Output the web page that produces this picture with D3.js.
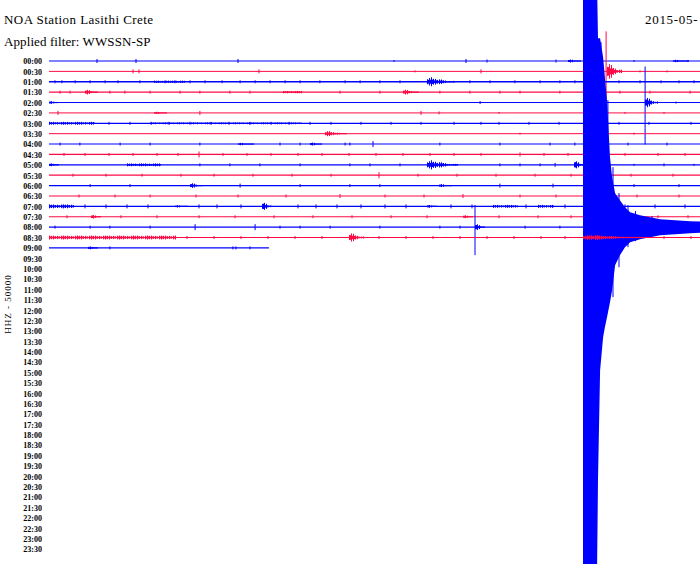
<!DOCTYPE html>
<html>
<head>
<meta charset="utf-8">
<script src="https://cdn.jsdelivr.net/npm/d3@7"></script>
<style>
  body { margin: 0; background: #fff; }
  svg { display: block; }
</style>
</head>
<body>
<svg id="heli" width="700" height="564"></svg>
<script>
// plot header
const station = 'NOA Station Lasithi Crete';
const filterName = 'Applied filter: WWSSN-SP';
const dateLabel = '2015-05-';
const channel = 'HHZ - 50000';

const rowColors = ['#0000ff', '#ff0a45'];
const rowMinutes = 30;
const lastRowEnd = 7.33; // 09:00 row, minutes recorded so far

// baseline thickness per row (background noise level)
const rowNoise = [1, 1, 1.3, 1.2, 1, 1, 1.2, 1, 1.1, 1.3, 1.1, 1.2, 1.1, 1.2, 1.3, 1.2, 1.1, 1.2, 1.1];

// short spikes per row: [minute, up, down?]
const ticks = [
  [[1.6, 2], [2.9, 2], [6.3, 2], [11.5, 1], [13.9, 2], [14.6, 1.5], [16.9, 1.5], [19.5, 1], [21.3, 1]],
  [[2.8, 2], [3.0, 2], [7.0, 2], [12.2, 1], [14.4, 2], [18.57, 40, 40], [19.7, 1], [20.6, 1]],
  [[0.2, 1.5], [0.43, 1.5], [0.87, 1.5], [1.37, 1.5], [1.87, 1.5], [2.3, 1.5], [3.03, 1.5], [3.87, 1.5], [4.2, 1.5],
   [4.7, 1.5], [5.2, 1.5], [5.77, 1.5], [6.37, 1.5], [6.87, 1.5], [7.37, 1.5], [7.87, 1.5], [8.37, 1.5], [9.03, 1.5],
   [9.87, 1.5], [10.37, 1.5], [11.03, 1.5], [11.7, 1.5], [14.03, 1.5], [14.7, 1.5], [15.53, 1.5], [16.37, 1.5],
   [17.03, 1.5], [17.53, 1.5], [19.0, 1.5], [19.7, 1.5], [20.4, 1.5], [21.0, 1.5], [21.5, 1.5]],
  [[0.37, 1.5], [0.7, 1.5], [2.03, 1.5], [2.53, 1.5], [3.37, 1.5], [4.37, 1.5], [5.03, 1.5], [6.03, 1.5], [6.7, 1.5],
   [9.7, 1.5], [11.03, 1.5], [13.03, 1.5], [14.03, 1.5], [15.03, 1.5], [15.7, 1.5], [17.03, 1.5], [19.03, 1.5],
   [20.03, 1.5], [21.37, 1.5]],
  [[14.37, 1.5], [18.4, 1], [19.87, 36, 42], [20.9, 1]],
  [[0.3, 2], [5.03, 2], [12.4, 2], [13.0, 1.5], [15.0, 1], [19.2, 1], [20.5, 1]],
  [[2.0, 1.5], [2.7, 1.5], [3.4, 1.5], [4.0, 1.5], [4.7, 1.5], [5.4, 1.5], [6.0, 1.5], [6.7, 1.5], [7.4, 1.5],
   [8.0, 1.5], [8.7, 1.5], [9.4, 1.5], [10.4, 1.5], [11.4, 1.5], [12.4, 1.5], [13.5, 1.5], [14.4, 1.5], [15.0, 1.5],
   [16.0, 1.5], [17.0, 1.5], [19.0, 1.5], [20.0, 1.5], [21.4, 1.5]],
  [[15.7, 1], [19.5, 1]],
  [[0.37, 1.5], [1.03, 1.5], [2.37, 1.5], [3.37, 1.5], [5.03, 1.5], [7.7, 1.5], [8.37, 1.5], [9.87, 1.5], [10.03, 1.5],
   [10.8, 3], [13.03, 1.5], [15.03, 1.5], [16.7, 1.5], [17.53, 1.5], [19.3, 1.5], [20.6, 1.5]],
  [[0.5, 1.5], [1.2, 1.5], [2.0, 1.5], [2.8, 1.5], [3.6, 1.5], [4.3, 1.5], [5.0, 3], [5.8, 1.5], [6.6, 1.5],
   [7.4, 1.5], [8.3, 1.5], [9.1, 1.5], [10.0, 1.5], [10.9, 1.5], [11.8, 1.5], [12.7, 1.5], [13.5, 1.5], [14.4, 1.5],
   [15.7, 2], [16.5, 1.5], [17.3, 1.5], [19.2, 1.5], [20.3, 1.5], [21.2, 1.5]],
  [[5.03, 1.5], [6.03, 1.5], [7.03, 1.5], [8.37, 1.5], [10.03, 1.5], [10.7, 1.5], [11.7, 1.5], [15.03, 1.5], [15.7, 1.5],
   [16.37, 1.5], [16.87, 2], [19.5, 1], [20.5, 1.5], [21.5, 1]],
  [[0.8, 1.5], [1.9, 1.5], [3.1, 1.5], [4.4, 1.5], [5.5, 1.5], [6.8, 1.5], [8.1, 1.5], [9.4, 1.5], [11.0, 3],
   [12.3, 1.5], [13.6, 1.5], [14.9, 1.5], [16.2, 1.5], [17.4, 1.5], [19.4, 1.5], [20.8, 1.5]],
  [[1.37, 1.5], [2.7, 1.5], [6.37, 2], [8.37, 1.5], [10.03, 1.5], [11.03, 1.5], [15.03, 2], [16.8, 2], [19.5, 1.5], [21.0, 1.5]],
  [[1.0, 1.5], [2.2, 1.5], [3.37, 1.5], [4.9, 1.5], [6.3, 1.5], [7.9, 1.5], [9.7, 2], [11.2, 1.5], [12.5, 1.5],
   [13.8, 2], [15.7, 1.5], [16.9, 1.5], [19.6, 1.5], [21.0, 1.5]],
  [[1.2, 2], [1.9, 2], [2.6, 2], [3.3, 2], [5.0, 2], [5.6, 2], [6.4, 2], [8.3, 2], [8.9, 2], [9.6, 2], [10.4, 2],
   [11.2, 2], [11.9, 2], [13.4, 2], [14.1, 2], [15.9, 2], [17.2, 2], [19.2, 2], [20.2, 2], [21.2, 2]],
  [[0.6, 1.5], [2.4, 1.5], [3.6, 1.5], [5.0, 1.5], [6.2, 1.5], [7.5, 1.5], [8.8, 1.5], [10.1, 1.5], [11.4, 1.5],
   [12.6, 1.5], [15.0, 1.5], [16.3, 1.5], [17.4, 1.5], [20.3, 1.5], [21.3, 1.5]],
  [[0.2, 1.5], [1.37, 1.5], [2.03, 1.5], [3.37, 1.5], [4.87, 3], [6.87, 3], [7.7, 1.5], [8.37, 1.5], [9.37, 1.5],
   [11.03, 1.5], [13.03, 1.5], [13.7, 1.5], [14.2, 22, 28], [15.87, 1.5], [17.03, 1.5],
   [18.40, 185, 120], [18.63, 127, 80], [18.80, 60, 70], [19.0, 34, 40], [19.3, 22, 20], [19.55, 16, 14], [20.1, 11, 10]],
  [[4.6, 1.5], [5.5, 1.5], [6.4, 1.5], [7.3, 1.5], [8.2, 1.5], [9.1, 1.5], [11.0, 1.5], [11.9, 1.5], [12.8, 1.5],
   [13.7, 1.5], [14.6, 1.5], [15.5, 1.5], [16.4, 1.5], [17.2, 1.5], [20.5, 1.5], [21.4, 1.5]],
  [[2.03, 1.5], [6.13, 1.5], [6.23, 1.5], [6.7, 1.5]]
];

// wave trains: [row, start minute, amplitude, duration minutes]
const bursts = [
  [0, 17.3, 2, 0.4], [0, 20.8, 1.5, 0.5],
  [1, 18.6, 9, 0.45],
  [2, 12.6, 5, 0.9],
  [3, 1.2, 3, 0.4], [3, 11.8, 3, 0.5],
  [4, 0, 2, 0.25], [4, 19.87, 6, 0.4],
  [5, 3.5, 1.5, 0.4],
  [7, 9.2, 3, 0.7],
  [8, 6.3, 1.5, 0.5], [8, 8.7, 2, 0.35],
  [10, 0, 2, 0.3], [10, 12.6, 5, 1.0], [10, 17.5, 5, 0.3],
  [12, 4.7, 3, 0.4], [12, 13.0, 2, 0.4],
  [14, 4.2, 1.5, 0.4], [14, 7.1, 5, 0.3], [14, 12.6, 2, 0.3],
  [15, 1.4, 2.5, 0.3], [15, 13.8, 2, 0.3], [15, 19.4, 3, 0.3],
  [16, 14.2, 4, 0.3],
  [17, 10.0, 5, 0.5], [17, 17.8, 3, 2.0],
  [18, 1.3, 2, 0.3]
];

// steady background noise stretches: [row, start minute, end minute, amplitude]
const noiseBands = [
  [2, 3.5, 4.5, 1.2], [3, 7.8, 8.4, 1.2],
  [6, 0, 1.5, 1.5], [6, 3.4, 8.4, 1],
  [10, 2.6, 3.7, 1.5],
  [14, 0, 0.8, 2], [14, 14.8, 15.6, 1.5], [14, 16.3, 16.8, 1.5],
  [17, 0, 4.2, 2]
];

// main shock on the 08:00 row: [minute, up, down]
const quakeRow = 16;
const quakeEnvelope = [
  [17.80, 0, 0], [17.80, 240, 340], [18.27, 240, 340], [18.30, 189, 253], [18.37, 189, 143],
  [18.47, 170, 110], [18.53, 150, 100], [18.60, 127, 90], [18.70, 70, 75], [18.77, 50, 63],
  [18.87, 34, 38], [19.03, 27, 28], [19.20, 20, 20], [19.37, 15, 15], [19.70, 12, 12],
  [20.37, 8, 8], [21.37, 6, 6], [22.40, 5, 5]
];

// relative wiggle heights reused along every wave train
const texture = [1, 0.55, 0.85, 0.4, 0.95, 0.5, 0.7, 0.35, 0.8, 0.45, 0.6, 0.3, 0.9, 0.5];

const svg = d3.select('#heli');
const day = new Date(2015, 4, 1);

const x = d3.scaleLinear().domain([0, rowMinutes]).range([49, 949]);
const y = d3.scaleTime()
  .domain([day, d3.timeMinute.offset(day, 47 * rowMinutes)])
  .range([61, 549]);
const amp = d3.scaleLinear().domain([0, 100]).range([0, 100]);

const font = '"Liberation Serif", "Times New Roman", serif';

// header: [text, x, y, letter spacing]
const header = [[station, 4, 24, 0.45], [filterName, 4, 46, 0.1], [dateLabel, 645, 24, 0.7]];
svg.selectAll('text.header')
  .data(header)
  .join('text')
  .attr('class', 'header')
  .attr('x', d => d[1]).attr('y', d => d[2])
  .style('font', `13px ${font}`)
  .style('letter-spacing', d => `${d[3]}px`)
  .text(d => d[0]);

// time labels
const axis = svg.append('g')
  .attr('transform', 'translate(42,0)')
  .call(d3.axisLeft(y)
    .ticks(d3.timeMinute.every(30))
    .tickFormat(d3.timeFormat('%H:%M'))
    .tickSize(0)
    .tickPadding(0));
axis.select('.domain').remove();
axis.selectAll('text')
  .attr('dy', '0.35em')
  .style('font', `bold 8px ${font}`)
  .attr('fill', '#000');

svg.append('text')
  .attr('transform', 'translate(11,304) rotate(-90)')
  .attr('text-anchor', 'middle')
  .style('font', `9px ${font}`)
  .style('letter-spacing', '1px')
  .text(channel);

// traces
const plot = svg.append('g');
const quakeArea = d3.area()
  .x(d => x(d[0]))
  .y0(d => d.y0 + amp(d[2]))
  .y1(d => d.y0 - amp(d[1]));

function wiggles(start, end, a, decay) {
  const x0 = Math.round(x(start));
  const x1 = Math.round(x(end));
  return d3.range(x0, x1 + 1).map((px, k) => {
    const t = (px - x0) / Math.max(1, x1 - x0);
    let env = 1;
    if (decay) env = t < 0.1 ? 0.5 + 5 * t : Math.max(0.2, Math.pow(1 - (t - 0.1) / 0.9, 1.3));
    return { px, h: Math.max(0.6, amp(a) * env * texture[k % texture.length]) };
  });
}

rowNoise.forEach((w, i) => {
  const y0 = y(d3.timeMinute.offset(day, i * rowMinutes));
  const color = rowColors[i % 2];
  const end = i === rowNoise.length - 1 ? lastRowEnd : rowMinutes;
  const g = plot.append('g').attr('stroke', color);

  g.append('line')
    .attr('x1', x(0)).attr('x2', x(end))
    .attr('y1', y0).attr('y2', y0)
    .attr('stroke-width', w);

  g.selectAll('line.tick')
    .data(ticks[i])
    .join('line')
    .attr('class', 'tick')
    .attr('x1', d => x(d[0])).attr('x2', d => x(d[0]))
    .attr('y1', d => y0 - amp(d[1]))
    .attr('y2', d => y0 + amp(d.length > 2 ? d[2] : d[1]))
    .attr('stroke-width', 1);

  const cols = [
    ...noiseBands.filter(b => b[0] === i).flatMap(b => wiggles(b[1], b[2], b[3], false)),
    ...bursts.filter(b => b[0] === i).flatMap(b => wiggles(b[1], b[1] + b[3], b[2], true))
  ];
  g.selectAll('line.wig')
    .data(cols)
    .join('line')
    .attr('class', 'wig')
    .attr('x1', d => d.px + 0.5).attr('x2', d => d.px + 0.5)
    .attr('y1', d => y0 - d.h)
    .attr('y2', d => y0 + d.h)
    .attr('stroke-width', 1);

  if (i === quakeRow) {
    const env = quakeEnvelope.map(d => Object.assign([...d], { y0 }));
    g.append('path')
      .attr('stroke', 'none')
      .attr('fill', color)
      .attr('d', quakeArea(env));
  }
});
</script>
</body>
</html>
